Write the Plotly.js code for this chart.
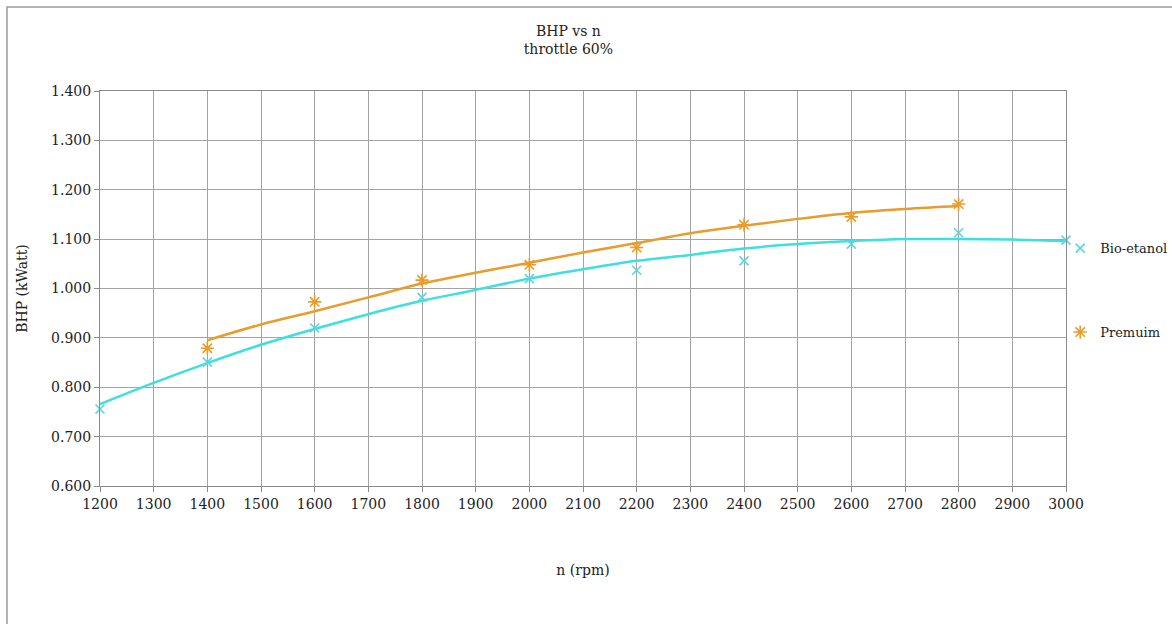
<!DOCTYPE html>
<html>
<head>
<meta charset="utf-8">
<script src="https://cdn.plot.ly/plotly-3.0.1.min.js"></script>
<style>html,body{margin:0;padding:0;background:#fff;}#chart{width:1172px;height:624px;}</style>
</head>
<body>
<div id="chart"></div>
<script>
// Measured points
const rpmBio = [1200, 1400, 1600, 1800, 2000, 2200, 2400, 2600, 2800, 3000];
const bhpBio = [0.756, 0.851, 0.920, 0.982, 1.020, 1.037, 1.056, 1.090, 1.113, 1.098];
const rpmPrem = [1400, 1600, 1800, 2000, 2200, 2400, 2600, 2800];
const bhpPrem = [0.879, 0.973, 1.017, 1.048, 1.083, 1.129, 1.145, 1.171];

// Trend lines
const trendRpmBio = [1200, 1300, 1400, 1500, 1600, 1700, 1800, 1900, 2000, 2100, 2200, 2300, 2400, 2500, 2600, 2700, 2800, 2900, 3000];
const trendBio = [0.766, 0.809, 0.849, 0.886, 0.918, 0.948, 0.975, 0.997, 1.020, 1.039, 1.056, 1.068, 1.081, 1.090, 1.096, 1.100, 1.100, 1.099, 1.096];
const trendRpmPrem = [1400, 1500, 1600, 1700, 1800, 1900, 2000, 2100, 2200, 2300, 2400, 2500, 2600, 2700, 2800];
const trendPrem = [0.895, 0.927, 0.954, 0.982, 1.010, 1.032, 1.052, 1.073, 1.092, 1.112, 1.127, 1.141, 1.153, 1.161, 1.167];

const xTicks = [1200,1300,1400,1500,1600,1700,1800,1900,2000,2100,2200,2300,2400,2500,2600,2700,2800,2900,3000];
const yTicks = [0.6,0.7,0.8,0.9,1.0,1.1,1.2,1.3,1.4];

const cyan = '#3ddfe0';
const cyanMk = '#5cd6de';
const orange = '#e89c2c';
const serif = 'DejaVu Serif, Liberation Serif, serif';
const txt = '#222';

const traces = [
  {x: trendRpmBio, y: trendBio, mode: 'lines', line: {color: cyan, width: 2.5, shape: 'spline'}, showlegend: false, hoverinfo: 'skip'},
  {x: trendRpmPrem, y: trendPrem, mode: 'lines', line: {color: orange, width: 2.5, shape: 'spline'}, showlegend: false, hoverinfo: 'skip'},
  {x: rpmBio, y: bhpBio, mode: 'markers', name: 'Bio-etanol', legendgroup: 'a', cliponaxis: false,
   marker: {symbol: 'x-thin-open', size: 9, color: cyanMk, line: {color: cyanMk, width: 1.6}}},
  {x: rpmPrem, y: bhpPrem, mode: 'markers', name: 'Premuim', legendgroup: 'b', cliponaxis: false,
   marker: {symbol: 'asterisk-open', size: 11, color: orange, line: {color: orange, width: 1.6}}}
];

const layout = {
  width: 1172, height: 624,
  margin: {l: 100, r: 106, t: 91, b: 138, autoexpand: false},
  paper_bgcolor: '#fff', plot_bgcolor: '#fff',
  font: {family: serif, size: 14, color: txt},
  title: {text: 'BHP vs n<br>throttle 60%', x: 0.485, xanchor: 'center', y: 0.942, yanchor: 'middle',
          font: {family: serif, size: 14, color: txt}},
  xaxis: {
    range: [1200, 3000], tickvals: xTicks, ticktext: xTicks.map(String),
    showgrid: true, gridcolor: '#a4a4a4', gridwidth: 1,
    showline: true, linecolor: '#8a8a8a', linewidth: 1, mirror: true,
    ticks: 'outside', ticklen: 5, tickcolor: '#8a8a8a',
    tickfont: {family: serif, size: 14, color: txt},
    title: {text: 'n (rpm)', standoff: 54, font: {family: serif, size: 14, color: txt}},
    automargin: true, zeroline: false
  },
  yaxis: {
    range: [0.6, 1.4], tickvals: yTicks, tickformat: '.3f',
    showgrid: true, gridcolor: '#a4a4a4', gridwidth: 1,
    showline: true, linecolor: '#8a8a8a', linewidth: 1, mirror: true,
    ticks: 'outside', ticklen: 5, tickcolor: '#8a8a8a',
    tickfont: {family: serif, size: 14, color: txt},
    title: {text: 'BHP (kWatt)', standoff: 20, font: {family: serif, size: 14, color: txt}},
    automargin: true, zeroline: false
  },
  legend: {x: 0.994, xanchor: 'left', y: 0.64, yanchor: 'top', traceorder: 'grouped', tracegroupgap: 64,
           font: {family: serif, size: 13, color: txt}, bgcolor: 'rgba(0,0,0,0)', itemwidth: 30},
  shapes: [
    {type: 'rect', xref: 'paper', yref: 'paper', x0: -0.0963, x1: 1.3, y0: -0.6, y1: 1.2127,
     line: {color: '#9a9a9a', width: 1.5}, fillcolor: 'rgba(0,0,0,0)', layer: 'below'}
  ]
};

Plotly.newPlot('chart', traces, layout, {displayModeBar: false, responsive: false});
</script>
</body>
</html>
